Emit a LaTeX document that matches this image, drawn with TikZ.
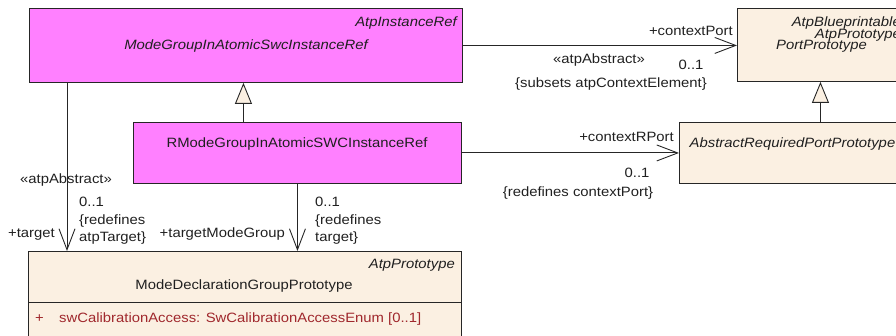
\documentclass[tikz,border=0pt]{standalone}
\usepackage{fontspec}
\setmainfont{Liberation Sans}[FakeStretch=1.1]
\usetikzlibrary{arrows.meta,calc}
\definecolor{mag}{HTML}{FF80FF}
\definecolor{beig}{HTML}{FBF0E2}
\definecolor{attr}{HTML}{A0282D}
\definecolor{txt}{HTML}{202020}
\begin{document}
\begin{tikzpicture}[x=1pt,y=-1pt,
  font=\fontsize{13.5}{16}\selectfont,
  cls/.style={draw=black!85, line width=0.9pt, inner sep=0, anchor=north west},
  t/.style={inner sep=0, text=txt},
  ti/.style={inner sep=0, text=txt, font=\fontsize{13.5}{16}\selectfont\itshape},
  assoc/.style={draw=black!85, line width=0.9pt, -{Straight Barb[length=21pt,width=16pt,line width=0.9pt]}},
  gen/.style={draw=black!85, line width=0.9pt, -{Triangle[length=21pt,width=17pt,line width=0.9pt,fill=beig]}}]
\useasboundingbox (0,0) rectangle (896,336);
\clip (0,0) rectangle (896,336);

% class boxes
\node[cls, fill=mag, minimum width=433, minimum height=74] (b1) at (29,8) {};
\node[cls, fill=beig, minimum width=169, minimum height=73] (b2) at (737,8) {};
\node[cls, fill=mag, minimum width=328, minimum height=61] (b3) at (133,122) {};
\node[cls, fill=beig, minimum width=227, minimum height=61] (b4) at (679,122) {};
\node[cls, fill=beig, minimum width=433, minimum height=100] (b5) at (28,251) {};
\draw[black!85, line width=0.9pt] ($(b5.north west)+(0,51)$) coordinate (s1) -- (s1 -| b5.east);

% class texts
\node[ti, anchor=base east] (b1s) at (457,27) {AtpInstanceRef};
\node[ti, anchor=base] (b1n) at (246,50) {ModeGroupInAtomicSwcInstanceRef};
\node[ti, anchor=base east] (b2s1) at (901,27) {AtpBlueprintable};
\node[ti, anchor=base east] (b2s2) at (901,38.5) {AtpPrototype};
\node[ti, anchor=base] (b2n) at (821.5,50) {PortPrototype};
\node[t, anchor=base] (b3n) at (297,148) {RModeGroupInAtomicSWCInstanceRef};
\node[ti, anchor=base] (b4n) at (792.5,148) {AbstractRequiredPortPrototype};
\node[ti, anchor=base east] (b5s) at (455,269) {AtpPrototype};
\node[t, anchor=base] (b5n) at (244,290) {ModeDeclarationGroupPrototype};
\node[inner sep=0, text=attr, anchor=base west] (b5p) at (35,322.5) {+};
\node[inner sep=0, text=attr, anchor=base west] (b5a) at (59,322.5) {swCalibrationAccess: SwCalibrationAccessEnum [0..1]};

% generalizations
\draw[gen] ([xshift=-54pt]b3.north) -- ([xshift=-54pt]b3.north |- b1.south);
\draw[gen] ([xshift=27.5pt]b4.north) -- ([xshift=27.5pt]b4.north |- b2.south);

% associations
\draw[assoc] (b1.east) -- (b1.east -| b2.west);
\draw[assoc] (b3.east) -- (b3.east -| b4.west);
\draw[assoc] ([xshift=38pt]b1.south west) -- ([xshift=38pt]b1.south west |- b5.north);
\draw[assoc] (b3.south) -- (b3.south |- b5.north);

% association labels
\node[t, anchor=base east] (l1) at (733,35.5) {+contextPort};
\node[t, anchor=base] (l2) at (599,63.5) {«atpAbstract»};
\node[t, anchor=base] (l3) at (691,70) {0..1};
\node[t, anchor=base] (l4) at (611,88) {\{subsets atpContextElement\}};

\node[t, anchor=base east] (l5) at (674,141.5) {+contextRPort};
\node[t, anchor=base] (l6) at (637,178) {0..1};
\node[t, anchor=base] (l7) at (578,197) {\{redefines contextPort\}};

\node[t, anchor=base] (l8) at (66,184) {«atpAbstract»};
\node[t, anchor=base west] (l9) at (79,207) {0..1};
\node[t, anchor=base west] (l10) at (79,224.5) {\{redefines};
\node[t, anchor=base west] (l11) at (79,242) {atpTarget\}};
\node[t, anchor=base east] (l12) at (55,238) {+target};

\node[t, anchor=base east] (l13) at (285,238) {+targetModeGroup};
\node[t, anchor=base west] (l14) at (315,207) {0..1};
\node[t, anchor=base west] (l15) at (315,224.5) {\{redefines};
\node[t, anchor=base west] (l16) at (315,242) {target\}};
\end{tikzpicture}
\end{document}
